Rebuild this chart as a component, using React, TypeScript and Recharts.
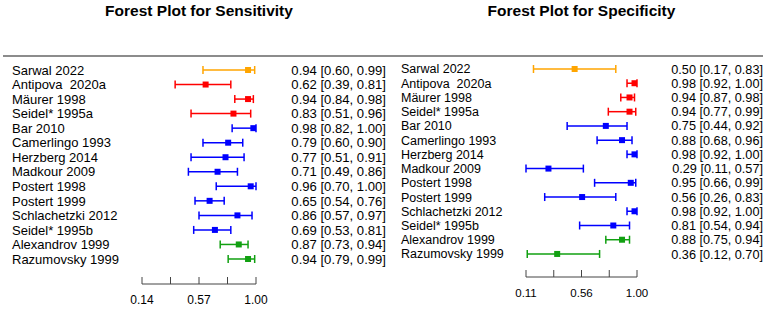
import React from 'react';
import { ScatterChart, Scatter, XAxis, YAxis, ErrorBar } from 'recharts';

const studies = [
  'Sarwal 2022',
  'Antipova  2020a',
  'Mäurer 1998',
  'Seidel* 1995a',
  'Bar 2010',
  'Camerlingo 1993',
  'Herzberg 2014',
  'Madkour 2009',
  'Postert 1998',
  'Postert 1999',
  'Schlachetzki 2012',
  'Seidel* 1995b',
  'Alexandrov 1999',
  'Razumovsky 1999',
];

const groups = ['orange', 'red', 'red', 'red', 'blue', 'blue', 'blue', 'blue', 'blue', 'blue', 'blue', 'blue', 'green', 'green'];

const sensEst = [0.94, 0.62, 0.94, 0.83, 0.98, 0.79, 0.77, 0.71, 0.96, 0.65, 0.86, 0.69, 0.87, 0.94];
const sensLo = [0.6, 0.39, 0.84, 0.51, 0.82, 0.6, 0.51, 0.49, 0.7, 0.54, 0.57, 0.53, 0.73, 0.79];
const sensHi = [0.99, 0.81, 0.98, 0.96, 1.0, 0.9, 0.91, 0.86, 1.0, 0.76, 0.97, 0.81, 0.94, 0.99];

const specEst = [0.5, 0.98, 0.94, 0.94, 0.75, 0.88, 0.98, 0.29, 0.95, 0.56, 0.98, 0.81, 0.88, 0.36];
const specLo = [0.17, 0.92, 0.87, 0.77, 0.44, 0.68, 0.92, 0.11, 0.66, 0.26, 0.92, 0.54, 0.75, 0.12];
const specHi = [0.83, 1.0, 0.98, 0.99, 0.92, 0.96, 1.0, 0.57, 0.99, 0.83, 1.0, 0.94, 0.94, 0.7];

const sensTicks = [0.14, 0.355, 0.57, 0.785, 1.0];
const sensTickLabels = ['0.14', '', '0.57', '', '1.00'];
const specTicks = [0.11, 0.3325, 0.555, 0.7775, 1.0];
const specTickLabels = ['0.11', '', '0.56', '', '1.00'];

const groupNames = ['orange', 'red', 'blue', 'green'];
const groupColors: Record<string, string> = {
  orange: '#FFA500',
  red: '#FF0000',
  blue: '#0000FF',
  green: '#11A011',
};

const FONT = '"Liberation Sans", Arial, Helvetica, sans-serif';
const rows = studies.map((_, i) => i);

type PanelProps = {
  est: number[];
  lo: number[];
  hi: number[];
  ticks: number[];
  tickLabels: string[];
  width: number;
  height: number;
  top: number;
  axisY: number;
  bottomVal: number;
  plotLeft: number;
  plotRight: number;
  labelX: number;
  valueEndX: number;
  labelFont: number;
  valueFont: number;
  tickFont: number;
  tickMargin: number;
};

function Panel(p: PanelProps) {
  const fmt = (v: number) => v.toFixed(2);
  const LabelTick = (props: any) => {
    const i = props.payload.value;
    return (
      <text x={p.labelX} y={props.y} dy="0.36em" textAnchor="start" fontSize={p.labelFont} fontFamily={FONT} fill="#000" style={{ whiteSpace: 'pre' }}>
        {studies[i]}
      </text>
    );
  };
  const ValueTick = (props: any) => {
    const i = props.payload.value;
    return (
      <text x={p.valueEndX} y={props.y} dy="0.36em" textAnchor="end" fontSize={p.valueFont} fontFamily={FONT} fill="#000">
        {`${fmt(p.est[i])} [${fmt(p.lo[i])}, ${fmt(p.hi[i])}]`}
      </text>
    );
  };
  const square = (color: string) => (props: any) => (
    <rect x={props.cx - 3} y={props.cy - 3} width={6} height={6} fill={color} />
  );
  return (
    <ScatterChart
      width={p.width}
      height={p.height}
      margin={{ top: p.top, right: 0, bottom: 0, left: 0 }}
      style={{ overflow: 'visible' }}
    >
      <XAxis
        type="number"
        dataKey="x"
        domain={[p.ticks[0], p.ticks[p.ticks.length - 1]]}
        ticks={p.ticks}
        allowDataOverflow
        height={p.height - p.axisY}
        tickSize={-7}
        tickMargin={p.tickMargin}
        tickFormatter={(v: number) => p.tickLabels[p.ticks.indexOf(v)] ?? ''}
        tick={{ fontSize: p.tickFont, fontFamily: FONT, fill: '#000' }}
        stroke="#444"
        axisLine={{ stroke: '#444', strokeWidth: 1 }}
        tickLine={{ stroke: '#444', strokeWidth: 1 }}
        interval={0}
      />
      <YAxis
        yAxisId="L"
        type="number"
        dataKey="y"
        domain={[-1, p.bottomVal]}
        reversed
        allowDataOverflow
        ticks={rows}
        interval={0}
        width={p.plotLeft}
        axisLine={false}
        tickLine={false}
        tick={<LabelTick />}
      />
      <YAxis
        yAxisId="R"
        orientation="right"
        type="number"
        dataKey="y"
        domain={[-1, p.bottomVal]}
        reversed
        allowDataOverflow
        ticks={rows}
        interval={0}
        width={p.width - p.plotRight}
        axisLine={false}
        tickLine={false}
        tick={<ValueTick />}
      />
      {groupNames.map((g) => {
        const data = rows
          .filter((i) => groups[i] === g)
          .map((i) => ({ x: p.est[i], y: i, err: [p.est[i] - p.lo[i], p.hi[i] - p.est[i]] }));
        return (
          <Scatter
            key={g}
            yAxisId="L"
            data={data}
            fill={groupColors[g]}
            shape={square(groupColors[g])}
            isAnimationActive={false}
          >
            <ErrorBar dataKey="err" direction="x" width={4} stroke={groupColors[g]} strokeWidth={1.5} isAnimationActive={false} />
          </Scatter>
        );
      })}
    </ScatterChart>
  );
}

export default function App() {
  return (
    <div style={{ position: 'absolute', left: 0, top: 0, width: 767, height: 309, background: '#fff', fontFamily: FONT }}>
      <div style={{ position: 'absolute', left: 0, top: 0 }}>
        <Panel
          est={sensEst}
          lo={sensLo}
          hi={sensHi}
          ticks={sensTicks}
          tickLabels={sensTickLabels}
          width={392}
          height={309}
          top={55.46}
          axisY={284}
          bottomVal={14.72}
          plotLeft={142}
          plotRight={256}
          labelX={12}
          valueEndX={386}
          labelFont={13}
          valueFont={13.1}
          tickFont={12}
          tickMargin={18}
        />
      </div>
      <div style={{ position: 'absolute', left: 384, top: 0 }}>
        <Panel
          est={specEst}
          lo={specLo}
          hi={specHi}
          ticks={specTicks}
          tickLabels={specTickLabels}
          width={383}
          height={309}
          top={54.77}
          axisY={277}
          bottomVal={14.62}
          plotLeft={142}
          plotRight={253}
          labelX={17}
          valueEndX={379}
          labelFont={12.5}
          valueFont={12.7}
          tickFont={11.5}
          tickMargin={18.6}
        />
      </div>
      <div style={{ position: 'absolute', left: 3, top: 55, width: 760, height: 2, background: '#8c8c8c' }} />
      <div style={{ position: 'absolute', left: 199, top: 2, transform: 'translateX(-50%)', whiteSpace: 'nowrap', fontSize: 15.5, fontWeight: 'bold', lineHeight: '18px', color: '#000' }}>
        Forest Plot for Sensitivity
      </div>
      <div style={{ position: 'absolute', left: 581.5, top: 2, transform: 'translateX(-50%)', whiteSpace: 'nowrap', fontSize: 15.5, fontWeight: 'bold', lineHeight: '18px', color: '#000' }}>
        Forest Plot for Specificity
      </div>
    </div>
  );
}
